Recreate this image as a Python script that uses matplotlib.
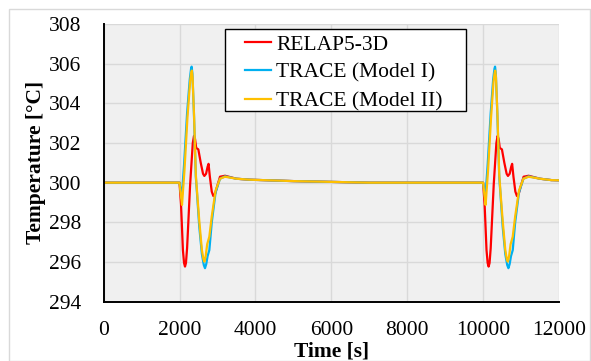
import matplotlib
matplotlib.use("Agg")
import matplotlib.pyplot as plt
from matplotlib.patches import Rectangle

plt.rcParams['font.family'] = ['Liberation Serif', 'DejaVu Serif']

# RELAP5-3D
t_relap = [0, 2000, 2040, 2090, 2120, 2145, 2170, 2200, 2280, 2350, 2382, 2410, 2440, 2496, 2560, 2620, 2655,
           2700, 2740, 2765, 2800, 2850, 2891, 2940, 2990, 3067, 3200, 3500, 3860, 5000, 6000, 7000, 10000,
           10040, 10090, 10120, 10145, 10170, 10200, 10280, 10350, 10382, 10410, 10440, 10496, 10560, 10620, 10655,
           10700, 10740, 10765, 10800, 10850, 10891, 10940, 10990, 11067, 11200, 11500, 11800, 12000]
T_relap = [300.0, 300.0, 298.9, 296.6, 295.95, 295.77, 295.95, 296.7, 299.9, 302.0, 302.36, 302.2, 301.75, 301.68, 301.0, 300.45, 300.34,
           300.45, 300.8, 300.95, 300.3, 299.55, 299.33, 299.45, 299.8, 300.3, 300.35, 300.2, 300.15, 300.08, 300.04, 300.0, 300.0,
           298.9, 296.6, 295.95, 295.77, 295.95, 296.7, 299.9, 302.0, 302.36, 302.2, 301.75, 301.68, 301.0, 300.45, 300.34,
           300.45, 300.8, 300.95, 300.3, 299.55, 299.33, 299.45, 299.8, 300.3, 300.35, 300.2, 300.13, 300.12]

# TRACE (Model I)
t_m1 = [0, 2000, 2030, 2057, 2120, 2200, 2270, 2305, 2320, 2340, 2380, 2430, 2460, 2520, 2590, 2640, 2672, 2705,
        2740, 2786, 2850, 2950, 3067, 3200, 3500, 3860, 5000, 6000, 7000, 10000,
        10030, 10057, 10120, 10200, 10265, 10300, 10315, 10335, 10375, 10425, 10455, 10515, 10585, 10635, 10667, 10700,
        10735, 10781, 10845, 10945, 11062, 11200, 11500, 11800, 12000]
T_m1 = [300.0, 300.0, 299.6, 299.2, 300.9, 303.5, 305.2, 305.75, 305.85, 305.5, 303.5, 300.3, 299.5, 297.8, 296.4, 295.85, 295.69, 295.9,
        296.3, 296.6, 298.0, 299.5, 300.2, 300.32, 300.2, 300.15, 300.08, 300.04, 300.0, 300.0,
        299.6, 299.2, 300.9, 303.5, 305.2, 305.75, 305.85, 305.5, 303.5, 300.3, 299.5, 297.8, 296.4, 295.85, 295.69, 295.9,
        296.3, 296.6, 298.0, 299.5, 300.2, 300.32, 300.2, 300.13, 300.12]

# TRACE (Model II)
t_m2 = [0, 2000, 2035, 2066, 2130, 2210, 2280, 2310, 2325, 2345, 2385, 2430, 2460, 2520, 2590, 2630, 2655, 2690,
        2730, 2786, 2850, 2950, 3067, 3200, 3500, 3860, 5000, 6000, 7000, 10000,
        10035, 10066, 10130, 10210, 10275, 10305, 10320, 10340, 10380, 10425, 10455, 10515, 10585, 10625, 10650, 10685,
        10725, 10781, 10845, 10945, 11062, 11200, 11500, 11800, 12000]
T_m2 = [300.0, 300.0, 299.4, 298.88, 300.6, 303.3, 305.1, 305.55, 305.65, 305.3, 303.3, 300.4, 299.6, 298.1, 296.6, 296.15, 296.02, 296.3,
        296.9, 297.28, 298.3, 299.6, 300.2, 300.3, 300.2, 300.15, 300.08, 300.04, 300.0, 300.0,
        299.4, 298.88, 300.6, 303.3, 305.1, 305.55, 305.65, 305.3, 303.3, 300.4, 299.6, 298.1, 296.6, 296.15, 296.02, 296.3,
        296.9, 297.28, 298.3, 299.6, 300.2, 300.3, 300.2, 300.13, 300.12]

x_ticks = [0, 2000, 4000, 6000, 8000, 10000, 12000]
y_ticks = [294, 296, 298, 300, 302, 304, 306, 308]

FS = 15.5

fig = plt.figure(figsize=(5.91, 3.61), dpi=100)
fig.patches.append(Rectangle((9/591, 0), 581/591, 1 - 9/361, transform=fig.transFigure,
                             fill=False, edgecolor='#d9d9d9', linewidth=1.0))
ax = fig.add_axes([103.6/591, 1 - 301.7/361, (559 - 103.6)/591, (301.7 - 24)/361])
ax.set_facecolor('#f0f0f0')

ax.plot(t_relap, T_relap, color='#ff0000', lw=1.6, label='RELAP5-3D')
ax.plot(t_m1, T_m1, color='#00b0f0', lw=1.6, label='TRACE (Model I)')
ax.plot(t_m2, T_m2, color='#ffc000', lw=1.6, label='TRACE (Model II)')

ax.set_xlim(0, 12000)
ax.set_ylim(294, 308)
ax.set_xticks(x_ticks)
ax.set_yticks(y_ticks)
ax.grid(True, color='#d9d9d9', lw=1.0)
ax.set_axisbelow(True)
for s in ['top', 'right']:
    ax.spines[s].set_visible(False)
for s in ['left', 'bottom']:
    ax.spines[s].set_linewidth(1.4)
    ax.spines[s].set_color('black')
ax.tick_params(axis='both', length=0, labelsize=FS)
ax.tick_params(axis='x', pad=14)
ax.tick_params(axis='y', pad=16)

ax.set_xlabel('Time [s]', fontsize=FS, fontweight='bold', labelpad=1)
ax.set_ylabel('Temperature [°C]', fontsize=FS, fontweight='bold', labelpad=2)

# legend box drawn as a rectangle in axes coordinates
ax.add_patch(Rectangle((0.2666, 0.6878), 0.7947 - 0.2666, 0.982 - 0.6878, transform=ax.transAxes,
                       facecolor='white', edgecolor='black', linewidth=1.0, zorder=4, clip_on=False))
leg = ax.legend(loc='upper left', bbox_to_anchor=(0.3105, 0.962), fontsize=FS,
                frameon=False, handlelength=1.2, handletextpad=0.25, borderpad=0.0,
                labelspacing=0.38, borderaxespad=0)
leg.set_zorder(5)

fig.savefig('out.png', dpi=100)
